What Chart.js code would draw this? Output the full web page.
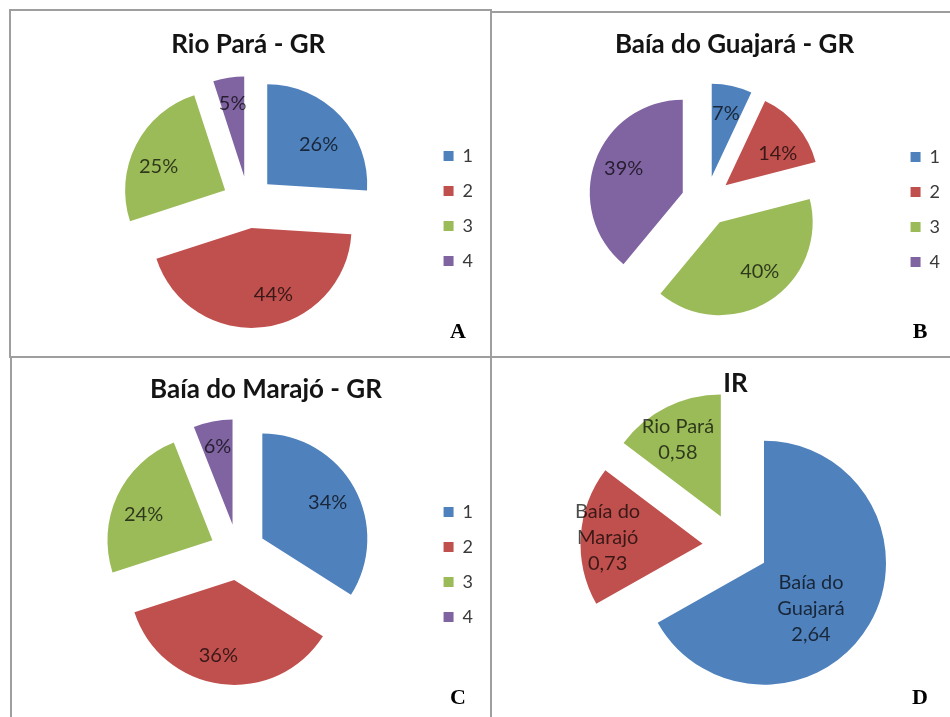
<!DOCTYPE html>
<html>
<head>
<meta charset="utf-8">
<script src="https://cdn.jsdelivr.net/npm/chart.js@4.4.0/dist/chart.umd.min.js"></script>
<style>
  body { margin: 0; background: #fff; }
  #page { position: relative; width: 950px; height: 717px; overflow: hidden; background: #fff; }
  canvas { position: absolute; }
  .rule { position: absolute; background: #9e9e9e; }
  .tag { position: absolute; font: bold 22px "Liberation Serif", "Times New Roman", serif; color: #000;
         transform: translate(-50%, -50%); line-height: 1; }
</style>
</head>
<body>
<div id="page">
  <div class="rule" style="left:9px;top:9px;width:482px;height:2px"></div>
  <div class="rule" style="left:491px;top:11px;width:459px;height:2px"></div>
  <div class="rule" style="left:9px;top:9px;width:2px;height:348px"></div>
  <div class="rule" style="left:10px;top:357px;width:2px;height:360px"></div>
  <div class="rule" style="left:490px;top:9px;width:2px;height:708px"></div>
  <div class="rule" style="left:9px;top:356px;width:941px;height:2px"></div>

  <canvas id="chartA" width="481" height="347" style="left:10px;top:10px"></canvas>
  <canvas id="chartB" width="459" height="347" style="left:491px;top:10px"></canvas>
  <canvas id="chartC" width="481" height="360" style="left:10px;top:357px"></canvas>
  <canvas id="chartD" width="459" height="360" style="left:491px;top:357px"></canvas>

  <div class="tag" style="left:458px;top:331px">A</div>
  <div class="tag" style="left:920px;top:331px">B</div>
  <div class="tag" style="left:458px;top:697px">C</div>
  <div class="tag" style="left:920px;top:697px">D</div>
</div>
<script>
// grade classes 1-4 (percent of each area)
const gradeLabels = ['1', '2', '3', '4'];
const rioParaGR = [26, 44, 25, 5];
const guajaraGR = [7, 14, 40, 39];
const marajoGR = [34, 36, 24, 6];

// IR index per area
const irLabels = [['Baía do', 'Guajará'], ['Baía do', 'Marajó'], ['Rio Pará']];
const irValues = [2.64, 0.73, 0.58];

const gradeColors = ['#4F81BD', '#C0504D', '#9BBB59', '#8064A2'];
const irColors = ['#4F81BD', '#C0504D', '#9BBB59'];

const FONT = 'Lato';

// pull every slice out of the centre, like Excel's exploded pie
const explodePlugin = {
    id: 'explode',
    beforeDatasetDraw(chart, args, opts) {
        const dist = opts.distance || 0;
        const ctx = chart.ctx;
        args.meta.data.forEach(arc => {
            const mid = (arc.startAngle + arc.endAngle) / 2;
            ctx.save();
            ctx.translate(Math.cos(mid) * dist, Math.sin(mid) * dist);
            arc.draw(ctx);
            ctx.restore();
        });
        return false;
    }
};

const sliceLabelPlugin = {
    id: 'sliceLabels',
    afterDatasetsDraw(chart, args, opts) {
        const ctx = chart.ctx;
        const dist = chart.options.plugins.explode.distance || 0;
        const meta = chart.getDatasetMeta(0);
        ctx.save();
        ctx.font = `20px ${FONT}`;
        ctx.fillStyle = 'rgba(0,0,0,0.7)';
        ctx.textAlign = 'center';
        ctx.textBaseline = 'middle';
        meta.data.forEach((arc, i) => {
            const mid = (arc.startAngle + arc.endAngle) / 2 + (opts.shift[i] || 0) * Math.PI / 180;
            const rr = dist + opts.radius[i] * arc.outerRadius;
            const x = arc.x + Math.cos(mid) * rr;
            const y = arc.y + Math.sin(mid) * rr;
            const lines = opts.text(i);
            lines.forEach((ln, k) => {
                ctx.fillText(ln, x, y + (k - (lines.length - 1) / 2) * 26);
            });
        });
        ctx.restore();
    }
};

function pieChart(id, labels, values, colors, cfg) {
    const legend = cfg.legendShift === undefined ? { display: false } : {
        display: true,
        position: 'right',
        labels: {
            boxWidth: 10, boxHeight: 10, padding: 17,
            color: '#3a3a3a',
            font: { family: FONT, size: 18 }
        },
        title: {
            display: true, text: ' ',
            font: { size: 1, lineHeight: 1 },
            padding: { top: cfg.legendShift - 1, bottom: 0 }
        }
    };
    return new Chart(document.getElementById(id), {
        type: 'pie',
        data: {
            labels: labels,
            datasets: [{ data: values, backgroundColor: colors, borderWidth: 0 }]
        },
        options: {
            responsive: false,
            animation: false,
            radius: cfg.radius,
            layout: { padding: cfg.padding },
            plugins: {
                title: {
                    display: true, text: cfg.title, fullSize: cfg.titleFull,
                    color: '#141414',
                    font: { family: FONT, size: 26, weight: 'bold', lineHeight: 1.2 },
                    padding: { top: cfg.titleTop, bottom: 0 }
                },
                legend: legend,
                tooltip: { enabled: false },
                explode: { distance: cfg.explode },
                sliceLabels: { radius: cfg.labelRadius, shift: cfg.labelShift, text: cfg.labelText }
            }
        },
        plugins: [explodePlugin, sliceLabelPlugin]
    });
}

pieChart('chartA', gradeLabels, rioParaGR, gradeColors, {
    title: 'Rio Pará - GR', titleFull: false, titleTop: 19,
    padding: { left: 60, right: 8, top: 0, bottom: 13 },
    radius: 100, explode: 26, legendShift: 63,
    labelRadius: [0.65, 0.7, 0.705, 0.74],
    labelShift: [3.8, -8, -5.3, 0],
    labelText: i => [rioParaGR[i] + '%']
});

pieChart('chartB', gradeLabels, guajaraGR, gradeColors, {
    title: 'Baía do Guajará - GR', titleFull: true, titleTop: 19,
    padding: { left: 28, right: 0, top: 0, bottom: 15 },
    radius: 93, explode: 25, legendShift: 67,
    labelRadius: [0.7, 0.655, 0.68, 0.686],
    labelShift: [0, 5.9, -4.9, 1.8],
    labelText: i => [guajaraGR[i] + '%']
});

pieChart('chartC', gradeLabels, marajoGR, gradeColors, {
    title: 'Baía do Marajó - GR', titleFull: true, titleTop: 17,
    padding: { left: 39, right: 8, top: 0, bottom: 18 },
    radius: 105, explode: 28, legendShift: 73,
    labelRadius: [0.71, 0.74, 0.7, 0.76],
    labelShift: [0, 3.4, -3.3, 0],
    labelText: i => [marajoGR[i] + '%']
});

pieChart('chartD', irLabels, irValues, irColors, {
    title: 'IR', titleFull: false, titleTop: 11,
    padding: { left: 30, right: 0, top: 0, bottom: 24 },
    radius: 122, explode: 33,
    labelRadius: [0.535, 0.78, 0.72],
    labelShift: [9.5, 0, -2],
    labelText: i => [...irLabels[i], irValues[i].toFixed(2).replace('.', ',')]
});
</script>
</body>
</html>
